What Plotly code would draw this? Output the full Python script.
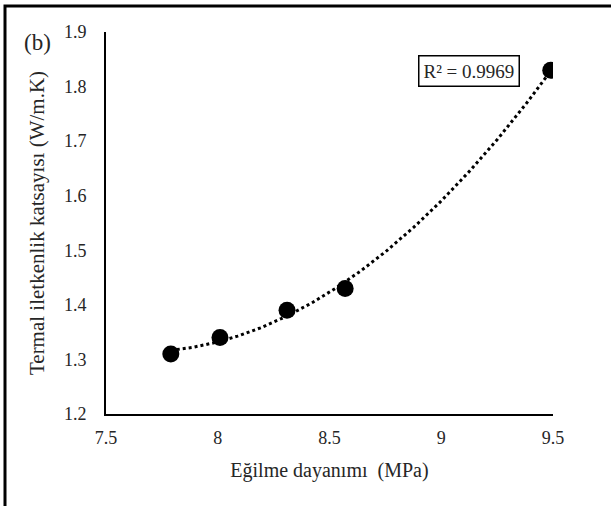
import numpy as np
import plotly.graph_objects as go

# Data
strength = [7.79, 8.01, 8.31, 8.57, 9.49]   # Eğilme dayanımı (MPa)
conductivity = [1.31, 1.34, 1.39, 1.43, 1.83]  # Termal iletkenlik katsayısı (W/m.K)
x_ticks = [7.5, 8, 8.5, 9, 9.5]
x_tick_labels = ["7.5", "8", "8.5", "9", "9.5"]
y_ticks = [1.2, 1.3, 1.4, 1.5, 1.6, 1.7, 1.8, 1.9]
y_tick_labels = ["1.2", "1.3", "1.4", "1.5", "1.6", "1.7", "1.8", "1.9"]
r2_label = "R² = 0.9969"

# Polynomial (2nd order) trendline fitted to the data
coef = np.polyfit(strength, conductivity, 2)
xs = np.linspace(min(strength), max(strength), 200)
ys = np.polyval(coef, xs)

font_family = "Liberation Serif, Times New Roman, serif"
txt = "#262626"

fig = go.Figure()
fig.add_trace(go.Scatter(x=xs, y=ys, mode="lines",
                         line=dict(color="black", width=3, dash="dot"),
                         hoverinfo="skip", showlegend=False))
fig.add_trace(go.Scatter(x=strength, y=conductivity, mode="markers",
                         marker=dict(color="black", size=17),
                         showlegend=False))

fig.update_layout(
    width=611, height=506,
    margin=dict(l=106, r=58, t=32, b=92),
    paper_bgcolor="white", plot_bgcolor="white",
    font=dict(family=font_family, color=txt, size=18),
    xaxis=dict(range=[7.5, 9.5], tickvals=x_ticks, ticktext=x_tick_labels,
               showgrid=False, zeroline=False, showline=True, linecolor="black",
               linewidth=2, ticks="", ticklabelstandoff=6,
               tickfont=dict(size=18, color=txt),
               title=dict(text="Eğilme dayanımı  (MPa)", font=dict(size=20, color=txt),
                          standoff=16)),
    yaxis=dict(range=[1.2, 1.9], tickvals=y_ticks, ticktext=y_tick_labels,
               showgrid=False, zeroline=False, showline=True, linecolor="black",
               linewidth=2, ticks="", ticklabelstandoff=14,
               tickfont=dict(size=18, color=txt),
               title=dict(text="Termal iletkenlik katsayısı (W/m.K)",
                          font=dict(size=21, color=txt), standoff=14)),
    shapes=[dict(type="rect", xref="paper", yref="paper",
                 x0=(5 - 106) / 447, x1=(640 - 106) / 447,
                 y0=(414 - 540) / 382, y1=(414 - 6) / 382,
                 line=dict(color="black", width=3), fillcolor="rgba(0,0,0,0)")],
    annotations=[
        dict(text="(b)", xref="paper", yref="paper", x=(37 - 106) / 447, y=(414 - 43) / 382,
             showarrow=False, font=dict(size=23, color=txt, family=font_family),
             xanchor="center", yanchor="middle"),
        dict(text=r2_label, xref="paper", yref="paper", x=(469 - 106) / 447, y=(414 - 71.5) / 382,
             showarrow=False, font=dict(size=19, color=txt, family=font_family),
             xanchor="center", yanchor="middle", bordercolor="black", borderwidth=1.5,
             borderpad=4, bgcolor="white"),
    ],
)

fig.write_html("out.html")
